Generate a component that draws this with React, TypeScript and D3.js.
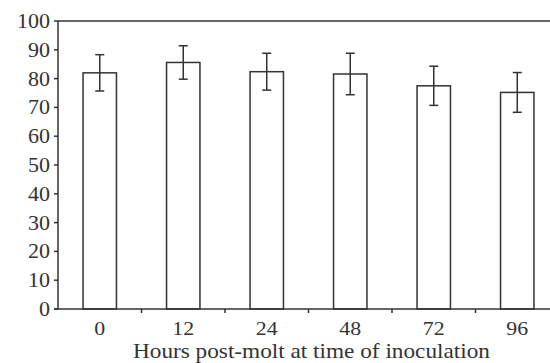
import React from "react";
import * as d3 from "d3";

const categories = ["0", "12", "24", "48", "72", "96"];
const values = [82.0, 85.6, 82.4, 81.6, 77.5, 75.2];
const errors = [6.3, 5.8, 6.4, 7.2, 6.8, 6.9];
const yTicks = [0, 10, 20, 30, 40, 50, 60, 70, 80, 90, 100];
const xTitle = "Hours post-molt at time of inoculation";

const W = 550;
const H = 363;
const left = 58;
const top = 21;
const bottom = 309;
const right = 559;
const ink = "#333";
const font = "'Liberation Serif', 'Times New Roman', serif";
const sx = 1.1;

export default function App() {
  const x = d3
    .scaleBand<string>()
    .domain(categories)
    .range([left, right])
    .paddingInner(0.6)
    .paddingOuter(0.3);
  const y = d3.scaleLinear().domain([0, 100]).range([bottom, top]);
  const step = x.step();
  const bw = x.bandwidth();
  const boundaries = categories.slice(1).map((c) => (x(c) as number) - (step - bw) / 2);
  const cap = 4.5;

  return (
    <svg
      width={W}
      height={H}
      style={{ position: "absolute", left: 0, top: 0, background: "#fff" }}
    >
      <rect x={0} y={0} width={W} height={H} fill="#fff" />
      {/* bars */}
      {categories.map((c, i) => (
        <rect
          key={c}
          x={x(c)}
          y={y(values[i])}
          width={bw}
          height={y(0) - y(values[i])}
          fill="#fff"
          stroke={ink}
          strokeWidth={1.5}
        />
      ))}
      {/* error bars */}
      {categories.map((c, i) => {
        const cx = (x(c) as number) + bw / 2;
        const y1 = y(values[i] + errors[i]);
        const y2 = y(values[i] - errors[i]);
        return (
          <g key={"e" + c} stroke={ink} strokeWidth={1.5}>
            <line x1={cx} x2={cx} y1={y1} y2={y2} />
            <line x1={cx - cap} x2={cx + cap} y1={y1} y2={y1} />
            <line x1={cx - cap} x2={cx + cap} y1={y2} y2={y2} />
          </g>
        );
      })}
      {/* axes */}
      <line x1={left} x2={W} y1={top} y2={top} stroke={ink} strokeWidth={1.5} />
      <line x1={left} x2={left} y1={top} y2={bottom} stroke={ink} strokeWidth={1.5} />
      <line x1={left - 4} x2={W} y1={bottom} y2={bottom} stroke={ink} strokeWidth={1.5} />
      {yTicks.map((t) => (
        <g key={"y" + t}>
          <line x1={left - 4} x2={left} y1={y(t)} y2={y(t)} stroke={ink} strokeWidth={1.5} />
          <text
            transform={`translate(${left - 8},${y(t)}) scale(${sx},1)`}
            dy="0.35em"
            textAnchor="end"
            fontFamily={font}
            fontSize={20}
            fill={ink}
          >
            {t}
          </text>
        </g>
      ))}
      {boundaries.map((b, i) => (
        <line key={"b" + i} x1={b} x2={b} y1={bottom} y2={bottom + 4} stroke={ink} strokeWidth={1.5} />
      ))}
      {categories.map((c) => (
        <text
          key={"xl" + c}
          transform={`translate(${(x(c) as number) + bw / 2},334.5) scale(1.15,1)`}
          textAnchor="middle"
          fontFamily={font}
          fontSize={19}
          fill={ink}
        >
          {c}
        </text>
      ))}
      <text
        x={133}
        y={358}
        textLength={357}
        lengthAdjust="spacingAndGlyphs"
        fontFamily={font}
        fontSize={21}
        fill={ink}
      >
        {xTitle}
      </text>
    </svg>
  );
}
